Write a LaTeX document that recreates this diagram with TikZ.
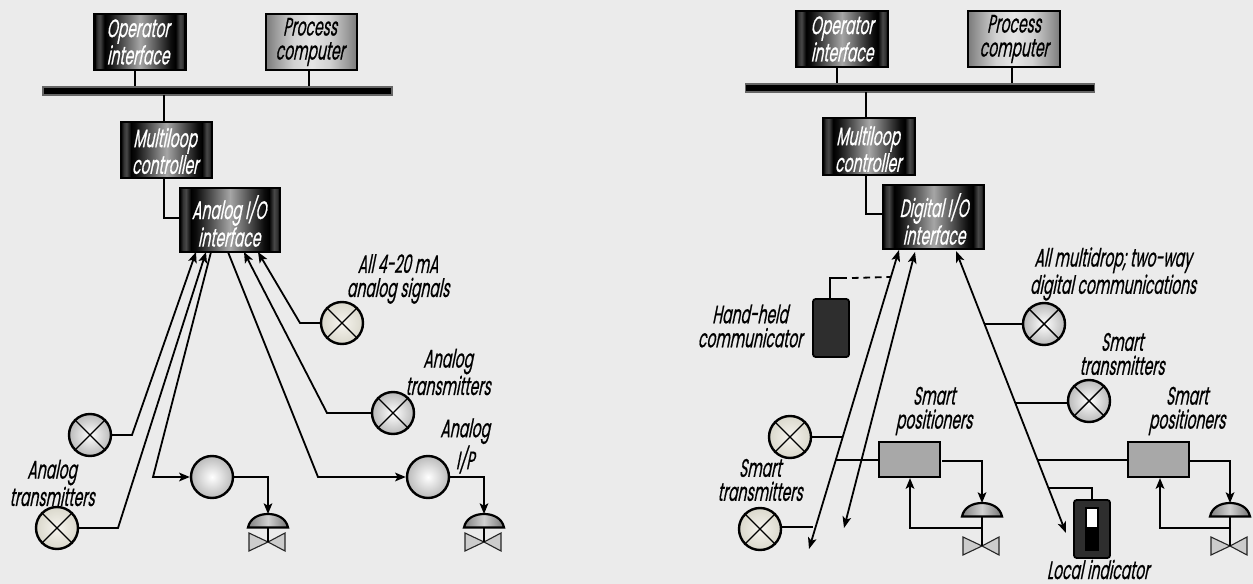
\documentclass[tikz,border=0pt]{standalone}
\usepackage{fontspec}
\setmainfont[FakeStretch=0.55,FakeSlant=0.2,FakeBold=0.6]{Poppins}
\usetikzlibrary{arrows.meta,calc}
\definecolor{bgc}{HTML}{EBEBEB}
\definecolor{creamc}{HTML}{F6F4EE}
\definecolor{creamo}{HTML}{DAD8CC}
\pgfdeclarehorizontalshading{boxdark}{100bp}{color(0bp)=(black);color(25bp)=(black);color(26.5bp)=(black!80!white);color(28bp)=(black!72!white);color(30.5bp)=(black);color(33bp)=(black!95!white);color(50bp)=(black!35!white);color(67bp)=(black!95!white);color(69.5bp)=(black);color(72bp)=(black!72!white);color(73.5bp)=(black!80!white);color(75bp)=(black);color(100bp)=(black)}
\pgfdeclarehorizontalshading{boxlight}{100bp}{color(0bp)=(black!52!white);color(25bp)=(black!52!white);color(30bp)=(black!40!white);color(40bp)=(black!18!white);color(50bp)=(black!10!white);color(60bp)=(black!18!white);color(70bp)=(black!40!white);color(75bp)=(black!52!white);color(100bp)=(black!52!white)}
\tikzset{
 px/.style={line width=#1*0.75pt},
 wire/.style={draw=black,px=1.8,line join=miter},
 arr/.style={wire,-{Stealth[length=8pt,width=6.5pt,inset=1.8pt]}},
 box/.style 2 args={draw=black,px=2.4,inner sep=0pt,minimum width=#1*0.75pt,minimum height=#2*0.75pt},
 darkbox/.style={shade,shading=boxdark},
 lightbox/.style={shade,shading=boxlight},
 busbar/.style={draw=black!60,fill=black,px=1.3,inner sep=0pt,minimum width=349*0.75pt,minimum height=8*0.75pt},
 lbl/.style={align=center,inner sep=0pt,font=\fontsize{19pt}{18pt}\selectfont},
 wlbl/.style={lbl,text=white},
 ball/.style={circle,draw=black,px=2.4,inner sep=0pt,minimum size=42*0.75pt,inner color=white,outer color=black!27!white},
 cream/.style={inner color=creamc,outer color=creamo},
 grayblock/.style={draw=black,fill=black!34!white,px=2.2,inner sep=0pt,minimum width=61*0.75pt,minimum height=35*0.75pt},
 hand/.style={draw=black,fill=black!82!white,px=1.8,rounded corners=2pt,inner sep=0pt,minimum width=36*0.75pt,minimum height=58*0.75pt},
}
\newcommand{\crossball}[1]{\draw[px=1.4] (#1.45)--(#1.225) (#1.135)--(#1.315);}
\newcommand{\actuator}[3]{%
 \coordinate (#1) at (#2);
 \begin{scope}[shift={(#1)}]
  \draw[draw=black!85,fill=black!20!white,px=1.1] (-19,#3-9) -- (0,#3) -- (-19,#3+9) -- cycle;
  \draw[draw=black!85,fill=black!20!white,px=1.1] (17,#3-9) -- (0,#3) -- (17,#3+9) -- cycle;
  \draw[px=2.2] (0,13) -- (0,#3);
  \draw[px=2.2,draw=black,left color=black!50!white,right color=black!55!white,middle color=black!18!white]
   (-20,13.5) .. controls (-18,4) and (-9,0) .. (0,0) .. controls (9,0) and (18,4) .. (20,13.5) -- cycle;
 \end{scope}}
\begin{document}
\begin{tikzpicture}[x=0.75pt,y=-0.75pt]
\useasboundingbox (0,0) rectangle (1253,584);
\fill[bgc] (0,0) rectangle (1253,584);
% ---------- LEFT ----------
\node[box={91}{56},darkbox] (opL) at (140,42) {};
\node[wlbl] (opLt) at (138,42) {Operator\\interface};
\node[box={91}{56},lightbox] (prL) at (311.5,42) {};
\node[lbl] (prLt) at (310,42) {Process\\computer};
\node[busbar] (busL) at (217.5,91) {};
\node[box={91}{56},darkbox] (mlL) at (166.5,150) {};
\node[wlbl] (mlLt) at (165,151) {Multiloop\\controller};
\node[box={100}{64},darkbox] (ioL) at (230,220) {};
\node[wlbl] (ioLt) at (229,221) {Analog I/O\\interface};
\coordinate (a1) at (135,70);
\coordinate (a2) at (309,70);
\coordinate (a3) at (164,95);
\coordinate (a4) at (164,178);
\coordinate (a5) at (164,218);
\draw[wire] (a1) -- (a1 |- busL.north);
\draw[wire] (a2) -- (a2 |- busL.north);
\draw[wire] (a3) -- (a3 |- mlL.north);
\draw[wire] (a4) -- (a5) -- (a5 -| ioL.west);
\node[ball] (t1L) at (90,435) {}; \crossball{t1L}
\node[ball,cream] (t2L) at (57,528) {}; \crossball{t2L}
\node[ball,cream] (t3L) at (342,323) {}; \crossball{t3L}
\node[ball] (t4L) at (393,413) {}; \crossball{t4L}
\node[ball] (ip1) at (212,477) {};
\node[ball] (ip2) at (428,477) {};
\coordinate (e1) at (132,435); \coordinate (h1) at (196,252);
\coordinate (e2) at (118,528); \coordinate (h2) at (206,252);
\coordinate (h3) at (211,252); \coordinate (e3) at (153,477);
\coordinate (h4) at (228,252); \coordinate (e4) at (318,477);
\coordinate (h5) at (244,252); \coordinate (e5) at (327,413);
\coordinate (h6) at (258,252); \coordinate (e6) at (300,323);
\draw[arr] (t1L.east) -- (e1) -- (h1);
\draw[arr] (t2L.east) -- (e2) -- (h2);
\draw[arr] (h3) -- (e3) -- (ip1.west);
\draw[arr] (h4) -- (e4) -- (ip2.west);
\draw[arr] (t4L.west) -- (e5) -- (h5);
\draw[arr] (t3L.west) -- (e6) -- (h6);
\actuator{v1}{268,514}{28}
\actuator{v2}{484,514}{28}
\draw[arr] (ip1.east) -- (ip1.east -| v1) -- (v1);
\draw[arr] (ip2.east) -- (ip2.east -| v2) -- (v2);
\node[lbl] (lb1) at (398,279) {All 4-20 mA\\analog signals};
\node[lbl] (lb2) at (448,372) {Analog\\transmitters};
\node[lbl] (lb3) at (465,446) {Analog\\I/P};
\node[lbl] (lb4) at (52,483) {Analog\\transmitters};
% ---------- RIGHT ----------
\node[box={92}{56},darkbox] (opR) at (842,39) {};
\node[wlbl] (opRt) at (842,39) {Operator\\interface};
\node[box={92}{56},lightbox] (prR) at (1014,39) {};
\node[lbl] (prRt) at (1014,39) {Process\\computer};
\node[busbar] (busR) at (920,88) {};
\node[box={92}{57},darkbox] (mlR) at (869,146.5) {};
\node[wlbl] (mlRt) at (868,149) {Multiloop\\controller};
\node[box={101}{64},darkbox] (ioR) at (933.5,217) {};
\node[wlbl] (ioRt) at (934,219) {Digital I/O\\interface};
\coordinate (b1) at (837,67);
\coordinate (b2) at (1012,67);
\coordinate (b3) at (866,92);
\coordinate (b4) at (866,175);
\coordinate (b5) at (866,214);
\draw[wire] (b1) -- (b1 |- busR.north);
\draw[wire] (b2) -- (b2 |- busR.north);
\draw[wire] (b3) -- (b3 |- mlR.north);
\draw[wire] (b4) -- (b5) -- (b5 -| ioR.west);
\coordinate (A0) at (899,250); \coordinate (A1) at (809,549);
\coordinate (B0) at (915,252); \coordinate (B1) at (844,528);
\coordinate (C0) at (956,251); \coordinate (C1) at (1066,533);
\draw[wire,{Stealth[length=8.5pt,width=6.5pt,inset=2pt]}-{Stealth[length=8.5pt,width=6.5pt,inset=2pt]}] (A0) -- (A1);
\draw[wire,{Stealth[length=8.5pt,width=6.5pt,inset=2pt]}-{Stealth[length=8.5pt,width=6.5pt,inset=2pt]}] (B0) -- (B1);
\draw[wire,{Stealth[length=8.5pt,width=6.5pt,inset=2pt]}-{Stealth[length=8.5pt,width=6.5pt,inset=2pt]}] (C0) -- (C1);
\node[hand] (hh) at (831,328) {};
\coordinate (d1) at (830,278); \coordinate (d2) at (847,278); \coordinate (d3) at (890,277);
\draw[wire] (d1 |- hh.north) -- (d1) -- (d2);
\draw[wire,dash pattern=on 5pt off 3.6pt] (d2) ++(5,0) -- (d3);
\node[ball] (t1R) at (1044,324) {}; \crossball{t1R}
\node[ball] (t2R) at (1089,401) {}; \crossball{t2R}
\node[ball,cream] (t3R) at (790,437) {}; \crossball{t3R}
\node[ball,cream] (t4R) at (760,529) {}; \crossball{t4R}
\coordinate (j1) at (985,324); \coordinate (j2) at (1016,403);
\coordinate (j3) at (842,437); \coordinate (j4) at (813,527);
\draw[wire] (t1R.west) -- (j1);
\draw[wire] (t2R.west |- j2) -- (j2);
\draw[wire] (t3R.east) -- (j3);
\draw[wire] (t4R.east |- j4) -- (j4);
\node[grayblock] (p1) at (909.5,459.5) {};
\node[grayblock] (p2) at (1158.5,459.5) {};
\coordinate (j5) at (836,460); \coordinate (j6) at (1038,460);
\draw[wire] (j5) -- (j5 -| p1.west);
\draw[wire] (j6) -- (j6 -| p2.west);
\actuator{v3}{982,503}{43}
\actuator{v4}{1230,503}{43}
\coordinate (o1) at (942,461); \coordinate (o2) at (1190,461);
\draw[arr] (o1) -- (o1 -| v3) -- (v3);
\draw[arr] (o2) -- (o2 -| v4) -- (v4);
\coordinate (f1) at (982,528); \coordinate (f2) at (910,528);
\coordinate (f3) at (1231,528); \coordinate (f4) at (1160,528);
\draw[arr] (f1) -- (f2) -- (f2 |- p1.south);
\draw[arr] (f3) -- (f4) -- (f4 |- p2.south);
\node[hand] (li) at (1092,529) {};
\coordinate (k1) at (1049,488);
\draw[wire] (k1) -- (k1 -| li.north) -- (li.north);
\node[fill=black,inner sep=0pt,minimum width=14*0.75pt,minimum height=44*0.75pt] (lib) at (1092,529) {};
\node[fill=white,inner sep=0pt,minimum width=10*0.75pt,minimum height=18*0.75pt] (liw) at (1092,518) {};
\node[lbl] (rb1) at (1113,274) {All multidrop; two-way\\digital communications};
\node[lbl] (rb2) at (1122,354) {Smart\\transmitters};
\node[lbl] (rb3) at (934,411) {Smart\\positioners};
\node[lbl] (rb4) at (1187,411) {Smart\\positioners};
\node[lbl] (rb5) at (760,480) {Smart\\transmitters};
\node[lbl] (rb6) at (1098,569.5) {Local indicator};
\node[lbl] (rb7) at (750,326) {Hand-held\\communicator};
\end{tikzpicture}
\end{document}
